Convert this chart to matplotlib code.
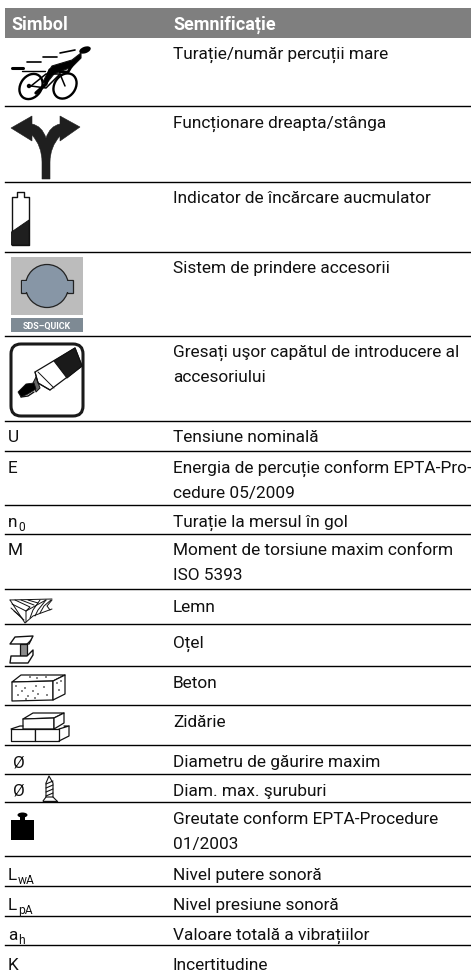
import matplotlib
matplotlib.use("Agg")
import matplotlib.pyplot as plt
from matplotlib.patches import Polygon, Ellipse, Circle, Rectangle, FancyBboxPatch, PathPatch
from matplotlib.path import Path

plt.rcParams['font.family'] = ['Roboto', 'DejaVu Sans']

headers = ["Simbol", "Semnificație"]
symbols = [("", ""), ("", ""), ("", ""), ("", ""), ("", ""),
           ("U", ""), ("E", ""), ("n", "0"), ("M", ""), ("", ""), ("", ""), ("", ""), ("", ""),
           ("Ø", ""), ("Ø", ""), ("", ""), ("L", "wA"), ("L", "pA"), ("a", "h"), ("K", "")]
meanings = ["Turație/număr percuții mare",
            "Funcționare dreapta/stânga",
            "Indicator de încărcare aucmulator",
            "Sistem de prindere accesorii",
            "Gresați uşor capătul de introducere al\naccesoriului",
            "Tensiune nominală",
            "Energia de percuție conform EPTA-Pro-\ncedure 05/2009",
            "Turație la mersul în gol",
            "Moment de torsiune maxim conform\nISO 5393",
            "Lemn",
            "Oțel",
            "Beton",
            "Zidărie",
            "Diametru de găurire maxim",
            "Diam. max. şuruburi",
            "Greutate conform EPTA-Procedure\n01/2003",
            "Nivel putere sonoră",
            "Nivel presiune sonoră",
            "Valoare totală a vibrațiilor",
            "Incertitudine"]
baselines = [59, 128, 203, 273, 357, 442, 473, 527, 555, 612, 648, 688, 727,
             767, 796, 824, 880, 910, 940, 970]
rules = [106, 182, 252, 336, 421, 451, 505, 534, 589, 624, 666, 705, 745,
         774, 802, 856, 886, 916, 945]

fig = plt.figure(figsize=(4.71, 9.76), dpi=100)
ax = fig.add_axes([0, 0, 1, 1])
ax.set_xlim(0, 471)
ax.set_ylim(976, 0)
ax.axis("off")

FS = 12.4
DARK = "#111111"


def poly(pts, fc="none", ec=DARK, lw=0.8):
    ax.add_patch(Polygon(pts, closed=True, fc=fc, ec=ec, lw=lw, joinstyle="round"))


def line(pts, lw=0.8, c=DARK):
    ax.plot([p[0] for p in pts], [p[1] for p in pts], c=c, lw=lw, solid_capstyle="round")


# cabecera y lineas
ax.add_patch(Rectangle((5, 8), 466, 30, fc="#7f7f7f", ec="none"))
ax.text(11, 30, headers[0], color="white", fontsize=FS + 0.6, fontweight="bold", va="baseline")
ax.text(173, 30, headers[1], color="white", fontsize=FS + 0.6, fontweight="bold", va="baseline")
for y in rules:
    ax.plot([5, 471], [y, y], c="black", lw=1.0)

for (main, sub), text, y in zip(symbols, meanings, baselines):
    for i, part in enumerate(text.split("\n")):
        ax.text(173, y + i * 25, part, color=DARK, fontsize=FS, va="baseline")
    if main:
        x = 13 if main == "Ø" else 8
        ax.text(x, y, main, color=DARK, fontsize=FS, va="baseline")
        if sub:
            ax.text(x + 10, y + 4, sub, color=DARK, fontsize=FS * 0.7, va="baseline")

# ciclista
ax.add_patch(Ellipse((85, 50), 12, 6.5, angle=-20, fc="black", ec="none"))
poly([(81, 53), (72, 60), (52, 66), (48, 72), (43, 82), (46, 84), (54, 74), (72, 67), (81, 58)], fc="black")
line([(50, 70), (46, 84), (36, 93)], lw=2.4, c="black")
line([(74, 62), (68, 72), (60, 72)], lw=2.0, c="black")
line([(12, 68), (23, 68)], lw=2.2, c="black")
line([(27, 62), (41, 62)], lw=1.2, c="black")
line([(22, 71), (45, 71)], lw=1.0, c="black")
line([(43, 57), (57, 57)], lw=1.2, c="black")
line([(60, 53), (75, 50)], lw=1.2, c="black")
ax.add_patch(Ellipse((31, 86.5), 21, 27, angle=35, fc="none", ec="black", lw=1.7))
ax.add_patch(Ellipse((65, 86), 21, 27, angle=35, fc="none", ec="black", lw=1.7))
line([(31, 86), (46, 74), (60, 74), (65, 86)], lw=1.1, c="black")
line([(31, 86), (46, 88), (60, 74)], lw=1.1, c="black")
ax.add_patch(Circle((29, 86), 2.2, fc="black", ec="none"))

# flechas
arrow_pts = [(42, 179), (50, 179), (50, 162), (50, 147), (60, 136), (60, 141), (80, 127), (60, 116),
             (60, 124), (50, 126), (46, 138), (42, 126), (32, 124), (32, 116), (11, 128), (32, 141),
             (32, 135), (42, 146), (42, 162), (42, 179)]
arrow_codes = [Path.MOVETO, Path.LINETO, Path.LINETO, Path.CURVE3, Path.CURVE3, Path.LINETO,
               Path.LINETO, Path.LINETO, Path.LINETO, Path.CURVE3, Path.CURVE3, Path.CURVE3,
               Path.CURVE3, Path.LINETO, Path.LINETO, Path.LINETO, Path.LINETO, Path.CURVE3,
               Path.CURVE3, Path.CLOSEPOLY]
ax.add_patch(PathPatch(Path(arrow_pts, arrow_codes), fc="#1f1f1f", ec="#1f1f1f", lw=0.4))

# bateria
poly([(17, 197), (17, 192), (24, 192), (24, 197), (29, 197), (29, 245), (11.5, 245), (11.5, 197)],
     fc="white", lw=1.0)
poly([(11.5, 232), (29, 220), (29, 245), (11.5, 245)], fc="#1f1f1f", lw=0.6)

# sds-quick
ax.add_patch(Rectangle((11, 257), 72, 58, fc="#bcbcbc", ec="none"))
ax.add_patch(Rectangle((11, 318), 72, 14, fc="#7e8a94", ec="none"))
ax.text(47, 329, "SDS–QUICK", color="white", fontsize=6.4, fontweight="bold", ha="center", va="baseline")
ax.add_patch(Rectangle((21, 280), 52, 13, fc="#8796a6", ec="#222222", lw=0.9))
ax.add_patch(Circle((47, 286), 21.5, fc="#8796a6", ec="#222222", lw=0.9))
ax.add_patch(Rectangle((22, 280.6), 50, 11.8, fc="#8796a6", ec="none"))

# grasa
ax.add_patch(FancyBboxPatch((17, 350), 60, 60, boxstyle="round,pad=6,rounding_size=10",
                            fc="white", ec="#1a1a1a", lw=2.2))
poly([(35, 372), (75, 348), (82, 366), (50, 390), (38, 383)], fc="white", lw=0.9)
poly([(54, 361), (75, 348), (82, 366), (67, 378)], fc="#1a1a1a", lw=0.8)
poly([(33, 383), (36, 377), (40, 388), (36, 392)], fc="#666666", lw=0.7)
poly([(18, 392), (26, 384), (34, 383), (36, 389), (28, 394), (21, 397)], fc="black", lw=0.6)
line([(21, 397), (28, 396), (34, 392)], lw=1.0)
line([(35, 372), (38, 383), (50, 390)], lw=0.8)
line([(38, 372), (54, 388)], lw=0.7)

# lemn
for pts in [[(10, 600), (25, 623), (33, 616), (52, 609)], [(10, 600), (52, 599)],
            [(12, 604), (26, 611), (26, 622)], [(11, 608), (22, 618)], [(14, 611), (24, 620)],
            [(15, 600), (30, 607), (26, 611)], [(21, 600), (34, 605)], [(28, 600), (38, 603)],
            [(26, 611), (46, 600)], [(40, 600), (33, 610), (30, 618)], [(46, 600), (38, 610), (35, 616)],
            [(51, 600), (44, 606), (40, 613)], [(52, 600), (47, 606), (50, 610)]]:
    line(pts, lw=0.7)

# otel
poly([(15, 637), (33, 636), (29, 644), (10, 644)], fc="white", lw=1.0)
poly([(20, 644), (27, 644), (27, 656), (20, 656)], fc="#8a8a8a", lw=0.9)
poly([(11, 656), (20, 656), (27, 656), (33, 650), (33, 655), (28, 663), (10, 663)], fc="white", lw=1.0)
line([(27, 644), (31, 640)], lw=0.8)

# beton
poly([(12, 682), (21, 675), (65, 675), (53, 681)], fc="white", lw=0.9)
poly([(12, 682), (53, 681), (53, 700), (12, 701)], fc="white", lw=0.9)
poly([(53, 681), (65, 675), (65, 694), (53, 700)], fc="white", lw=0.9)
for x, y in [(25, 688), (16, 686), (33, 691), (36, 686), (44, 687), (18, 695), (28, 696), (38, 694),
             (47, 695), (30, 677), (37, 678), (46, 677), (57, 683), (61, 681), (59, 690), (22, 691),
             (35, 698), (26, 699)]:
    ax.add_patch(Circle((x, y), 0.9, fc="#444444", ec="none"))

# zidarie
poly([(23, 719), (33, 713), (64, 713), (54, 718)], fc="white", lw=0.9)
poly([(23, 719), (54, 718), (54, 729), (23, 729)], fc="white", lw=0.9)
poly([(54, 718), (64, 713), (64, 723), (54, 729)], fc="white", lw=0.9)
poly([(11, 729), (35, 729), (35, 741), (11, 741)], fc="white", lw=0.9)
poly([(35, 729), (59, 729), (59, 741), (35, 741)], fc="white", lw=0.9)
line([(11, 729), (20, 726), (23, 726)], lw=0.9)
line([(64, 726), (69, 726), (59, 729)], lw=0.9)
line([(69, 726), (69, 736), (59, 741)], lw=0.9)

# tornillo
poly([(46, 797), (46, 783), (49, 776), (53, 783), (53, 797)], fc="white", lw=0.8)
for y in [784, 788, 792, 796]:
    line([(46, y), (53, y - 3)], lw=0.8)
line([(43, 801), (57, 801)], lw=1.0)
line([(43, 801), (46, 797)], lw=0.8)
line([(57, 801), (53, 797)], lw=0.8)

# pesa
ax.add_patch(Rectangle((11, 820), 23, 20, fc="black", ec="none"))
ax.add_patch(Rectangle((20, 815), 5, 6, fc="black", ec="none"))
ax.add_patch(Ellipse((22.5, 815), 10, 5, fc="black", ec="none"))

fig.savefig("out.png", dpi=100, facecolor="white")
